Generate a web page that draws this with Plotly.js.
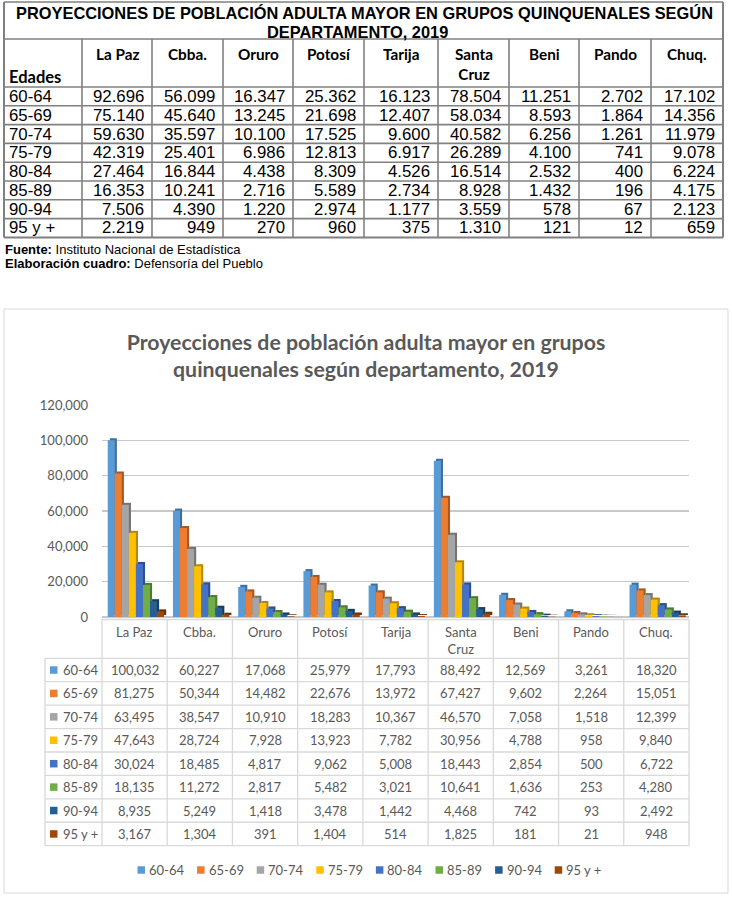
<!DOCTYPE html>
<html><head><meta charset="utf-8">
<script src="https://cdn.plot.ly/plotly-3.0.1.min.js"></script>
<style>html,body{margin:0;padding:0;background:#fff}</style>
</head><body><div id="chart" style="width:732px;height:898px"></div>
<script>
// ---------- DATA ----------
const departamentos = ['La Paz','Cbba.','Oruro','Potosí','Tarija','Santa Cruz','Beni','Pando','Chuq.'];
const departamentosEtiqueta = ['La Paz','Cbba.','Oruro','Potosí','Tarija','Santa<br>Cruz','Beni','Pando','Chuq.'];
const edades = ['60-64','65-69','70-74','75-79','80-84','85-89','90-94','95 y +'];

// Cuadro (INE) values
const cuadro_60_64 = [92696,56099,16347,25362,16123,78504,11251,2702,17102];
const cuadro_65_69 = [75140,45640,13245,21698,12407,58034,8593,1864,14356];
const cuadro_70_74 = [59630,35597,10100,17525,9600,40582,6256,1261,11979];
const cuadro_75_79 = [42319,25401,6986,12813,6917,26289,4100,741,9078];
const cuadro_80_84 = [27464,16844,4438,8309,4526,16514,2532,400,6224];
const cuadro_85_89 = [16353,10241,2716,5589,2734,8928,1432,196,4175];
const cuadro_90_94 = [7506,4390,1220,2974,1177,3559,578,67,2123];
const cuadro_95_mas = [2219,949,270,960,375,1310,121,12,659];

// Chart values
const grafico_60_64 = [100032,60227,17068,25979,17793,88492,12569,3261,18320];
const grafico_65_69 = [81275,50344,14482,22676,13972,67427,9602,2264,15051];
const grafico_70_74 = [63495,38547,10910,18283,10367,46570,7058,1518,12399];
const grafico_75_79 = [47643,28724,7928,13923,7782,30956,4788,958,9840];
const grafico_80_84 = [30024,18485,4817,9062,5008,18443,2854,500,6722];
const grafico_85_89 = [18135,11272,2817,5482,3021,10641,1636,253,4280];
const grafico_90_94 = [8935,5249,1418,3478,1442,4468,742,93,2492];
const grafico_95_mas = [3167,1304,391,1404,514,1825,181,21,948];

const yTicks = [0,20000,40000,60000,80000,100000,120000];

const tituloCuadro1 = 'PROYECCIONES DE POBLACIÓN ADULTA MAYOR EN GRUPOS QUINQUENALES SEGÚN';
const tituloCuadro2 = 'DEPARTAMENTO, 2019';
const tituloGrafico = 'Proyecciones de población adulta mayor en grupos<br>quinquenales según departamento, 2019';
const notaFuente = ['<b>Fuente:</b> Instituto Nacional de Estadística', '<b>Elaboración cuadro:</b> Defensoría del Pueblo'];

// ---------- STYLE / GEOMETRY ----------
const cuadro = [cuadro_60_64,cuadro_65_69,cuadro_70_74,cuadro_75_79,cuadro_80_84,cuadro_85_89,cuadro_90_94,cuadro_95_mas];
const grafico = [grafico_60_64,grafico_65_69,grafico_70_74,grafico_75_79,grafico_80_84,grafico_85_89,grafico_90_94,grafico_95_mas];
const colores = ['#5B9BD5','#ED7D31','#A5A5A5','#FFC000','#4472C4','#70AD47','#255E91','#9E480E'];
const oscuros = ['#3F6F9C','#A9561F','#747474','#B58800','#2E4F8C','#4E7A30','#173E62','#6A2F08'];

const W = 732, H = 898;
const px = x => x / W;
const py = y => 1 - y / H;
const GRAY = '#595959';
const FONT_C = 'Lato, "Open Sans", sans-serif';
const FONT_A = '"Liberation Sans", Arial, sans-serif';

const shapes = [];
const annotations = [];
function line(x0, y0, x1, y1, color, width) {
  shapes.push({type:'line', xref:'paper', yref:'paper', x0:px(x0), y0:py(y0), x1:px(x1), y1:py(y1),
    line:{color:color, width:width}, layer:'above'});
}
function square(x0, yc, size, color) {
  shapes.push({type:'rect', xref:'paper', yref:'paper', x0:px(x0), x1:px(x0 + size), y0:py(yc + size/2), y1:py(yc - size/2),
    fillcolor:color, line:{width:0}, layer:'above'});
}
function text(x, y, str, o) {
  annotations.push(Object.assign({xref:'paper', yref:'paper', x:px(x), y:py(y), text:str, showarrow:false,
    xanchor:'center', yanchor:'middle', borderpad:0}, o));
}
const fmtDot = n => String(n).replace(/\B(?=(\d{3})+(?!\d))/g, '.');
const fmtComma = n => String(n).replace(/\B(?=(\d{3})+(?!\d))/g, ',');

// ---------- TOP TABLE ----------
const tCols = [4, 82, 152, 223, 293, 364, 438, 509, 579, 651, 723];
const tTop = 2, tTitleBot = 39, tHeadBot = 87, tRowH = 18.8;
const tBot = tHeadBot + edades.length * tRowH;
const tLine = '#808080';
line(tCols[0], tTop, tCols[10], tTop, tLine, 1.6);
line(tCols[0], tTitleBot, tCols[10], tTitleBot, tLine, 1.6);
line(tCols[0], tHeadBot, tCols[10], tHeadBot, tLine, 1.6);
for (let r = 1; r < edades.length; r++) line(tCols[0], tHeadBot + r*tRowH, tCols[10], tHeadBot + r*tRowH, tLine, 1.6);
line(tCols[0], tBot, tCols[10], tBot, tLine, 2);
line(tCols[0], tTop, tCols[0], tBot, tLine, 2);
line(tCols[10], tTop, tCols[10], tBot, tLine, 2);
for (let c = 1; c < tCols.length - 1; c++) line(tCols[c], tTitleBot, tCols[c], tBot, tLine, 1.6);
const tMid = (tCols[0] + tCols[10]) / 2;
text(tMid + 1, 13.5, tituloCuadro1, {font:{family:FONT_A, size:16.4, color:'#000', weight:'bold'}});
text(tMid - 6, 31.5, tituloCuadro2, {font:{family:FONT_A, size:16.4, color:'#000', weight:'bold'}});
text(tCols[0] + 4, 76.5, 'Edades', {xanchor:'left', font:{family:FONT_C, size:16.5, color:'#000', weight:'bold'}});
departamentosEtiqueta.forEach((d, i) => {
  text((tCols[i+1] + tCols[i+2]) / 2, 43.5, d, {yanchor:'top', font:{family:FONT_C, size:15.3, color:'#000', weight:'bold'}});
});
edades.forEach((e, r) => {
  const yc = tHeadBot + (r + 0.5) * tRowH;
  text(tCols[0] + 4, yc, e, {xanchor:'left', font:{family:FONT_A, size:16.8, color:'#000'}});
  cuadro[r].forEach((v, i) => {
    text(tCols[i+2] - 7, yc, fmtDot(v), {xanchor:'right', font:{family:FONT_A, size:16.8, color:'#000'}});
  });
});
text(tCols[0], 249.5, notaFuente[0], {xanchor:'left', font:{family:FONT_A, size:13, color:'#000'}});
text(tCols[0], 263, notaFuente[1], {xanchor:'left', font:{family:FONT_A, size:13, color:'#000'}});

// ---------- CHART FRAME ----------
shapes.push({type:'rect', xref:'paper', yref:'paper', x0:px(4), y0:py(893), x1:px(728), y1:py(309),
  line:{color:'#d9d9d9', width:1}, fillcolor:'rgba(0,0,0,0)', layer:'below'});

// ---------- BAR CHART ----------
const plotL = 102, plotR = 689, plotTop = 405, plotBot = 617;
const gapL = 0.088, bw = 0.108, depthX = 0.032, depthY = 1150;
const traces = [];
edades.forEach((e, s) => {
  const off = -0.5 + gapL + s * bw;
  traces.push({type:'bar', x:departamentos, y:grafico[s], base:depthY, offset:off + depthX, width:bw,
    marker:{color:oscuros[s], line:{width:0}}, showlegend:false, hoverinfo:'skip'});
  traces.push({type:'bar', name:e, x:departamentos, y:grafico[s], offset:off, width:bw,
    marker:{color:colores[s], line:{width:0}}, showlegend:false});
});

// ---------- DATA TABLE UNDER CHART ----------
const dLine = '#d9d9d9';
const cw = (plotR - plotL) / departamentos.length;
const dTop = 619.5, dHeadBot = 658.3, dRowH = 23.42, keyL = 45;
const dBot = dHeadBot + edades.length * dRowH;
line(plotL, dTop, plotR, dTop, dLine, 1.3);
line(keyL, dHeadBot, plotR, dHeadBot, dLine, 1.3);
for (let r = 1; r <= edades.length; r++) line(keyL, dHeadBot + r*dRowH, plotR, dHeadBot + r*dRowH, dLine, 1.3);
for (let i = 0; i <= departamentos.length; i++) line(plotL + i*cw, dTop, plotL + i*cw, dBot, dLine, 1.3);
line(keyL, dHeadBot, keyL, dBot, dLine, 1.3);
departamentosEtiqueta.forEach((d, i) => {
  text(plotL + (i + 0.5) * cw, 623, d, {yanchor:'top', font:{family:FONT_C, size:13, color:GRAY}});
});
edades.forEach((e, r) => {
  const yc = dHeadBot + (r + 0.5) * dRowH;
  square(50, yc, 7.5, colores[r]);
  text(61.5, yc, e, {xanchor:'left', font:{family:FONT_C, size:13, color:GRAY}});
  grafico[r].forEach((v, i) => {
    text(plotL + (i + 0.5) * cw, yc, fmtComma(v), {font:{family:FONT_C, size:13, color:GRAY}});
  });
});

// ---------- LEGEND ----------
const legY = 870, legX0 = 137.5, legStep = 59.6;
edades.forEach((e, s) => {
  const x = legX0 + s * legStep;
  square(x, legY, 7.5, colores[s]);
  text(x + 10.5, legY, e, {xanchor:'left', font:{family:FONT_C, size:13, color:GRAY}});
});

const layout = {
  width: W, height: H,
  margin: {l:0, r:0, t:0, b:0},
  paper_bgcolor: '#fff', plot_bgcolor: 'rgba(0,0,0,0)',
  barmode: 'overlay',
  showlegend: false,
  title: {text: tituloGrafico, x: 0.5, xanchor: 'center', xref: 'paper', y: py(349.7), yanchor: 'middle', yref: 'paper',
    font: {family: FONT_C, size: 21.3, color: GRAY, weight: 'bold'}},
  xaxis: {domain:[px(plotL), px(plotR)], type:'category', range:[-0.5, departamentos.length - 0.5],
    showticklabels:false, showgrid:false, zeroline:false, showline:false, fixedrange:true},
  yaxis: {domain:[py(plotBot), py(plotTop)], range:[0, 120000], tickvals:yTicks, tickformat:',d',
    showgrid:true, gridcolor:'#c8c8c8', gridwidth:1.2, zeroline:true, zerolinecolor:'#c8c8c8', zerolinewidth:1.2,
    showline:false, ticks:'', ticklabelstandoff:13,
    tickfont:{family:FONT_C, size:13, color:GRAY}, fixedrange:true},
  shapes: shapes,
  annotations: annotations
};

Plotly.newPlot('chart', traces, layout, {displayModeBar:false, staticPlot:true});
</script>
</body></html>
